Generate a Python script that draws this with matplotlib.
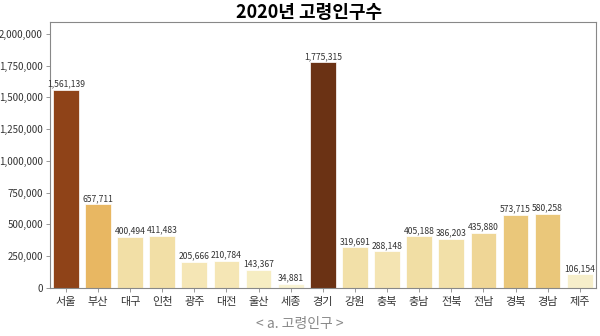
import matplotlib.pyplot as plt
from matplotlib.ticker import FuncFormatter

plt.rcParams['font.family'] = ['Noto Sans CJK KR', 'DejaVu Sans']

# 2020 elderly population by region
regions = ['서울', '부산', '대구', '인천', '광주', '대전', '울산', '세종', '경기',
           '강원', '충북', '충남', '전북', '전남', '경북', '경남', '제주']
values = [1561139, 657711, 400494, 411483, 205666, 210784, 143367, 34881, 1775315,
          319691, 288148, 405188, 386203, 435880, 573715, 580258, 106154]
colors = ['#8f4318', '#e8b762', '#f2dfa6', '#f2dfa6', '#f5e6b5', '#f5e6b5', '#f6edc2',
          '#f8f2d2', '#6b3214', '#f2e0a8', '#f4e4b2', '#f1dea4', '#f2e0a8', '#efd696',
          '#eac77a', '#eac77a', '#f6eeca']

fig = plt.figure(figsize=(6, 3.36), dpi=100)
ax = fig.add_axes([0.083, 0.143, 0.91, 0.792])

bars = ax.bar(regions, values, color=colors, width=0.8, edgecolor='white', linewidth=0.5)
for b, v in zip(bars, values):
    ax.text(b.get_x() + b.get_width() / 2, v + 12000, f'{v:,}',
            ha='center', va='bottom', fontsize=6.2, color='#333333')

ax.set_xlim(-0.5, len(regions) - 0.5)
ax.set_ylim(0, max(values) * 1.18)
ax.set_yticks(range(0, 2000001, 250000))
ax.yaxis.set_major_formatter(FuncFormatter(lambda x, p: f'{int(x):,}'))
ax.tick_params(axis='y', labelsize=7, pad=2)
ax.tick_params(axis='x', labelsize=8)
ax.tick_params(axis='both', labelcolor='#333333', color='#888888', length=3, width=0.6)
for s in ax.spines.values():
    s.set_color('#888888')
    s.set_linewidth(0.8)

fig.text(0.515, 0.963, '2020년 고령인구수', ha='center', va='center',
         fontsize=13, fontweight='bold')
fig.text(0.5, 0.035, '< a. 고령인구 >', ha='center', va='center',
         fontsize=10, color='#888888')

fig.savefig('out.png', dpi=100)
